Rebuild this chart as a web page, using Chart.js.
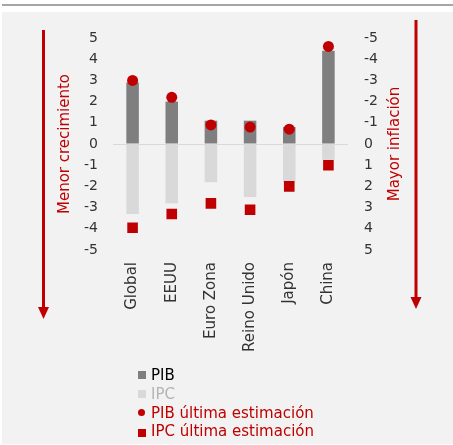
<!DOCTYPE html>
<html lang="es">
<head>
<meta charset="utf-8">
<title>PIB e IPC: previsiones</title>
<script src="https://cdn.jsdelivr.net/npm/chart.js@4/dist/chart.umd.min.js"></script>
<style>
  html, body { margin: 0; padding: 0; background: #ffffff; }
  #wrap { position: relative; width: 453px; height: 445px; overflow: hidden; font-family: "DejaVu Sans", sans-serif; }
  #topline { position: absolute; left: 2px; right: 0; top: 4px; height: 2px; background: #a6a6a6; }
  #panel { position: absolute; left: 2px; right: 0; top: 12px; bottom: 1px; background: #f2f2f2; }
  #chart { position: absolute; left: 0; top: 0; }
  #legend { position: absolute; left: 136px; top: 366px; font-size: 15px; line-height: 18.8px; }
  .item { display: flex; align-items: center; white-space: nowrap; }
  .mk { width: 11px; height: 8px; margin-right: 4px; display: flex; justify-content: center; align-items: center; }
  .mk span { display: block; }
</style>
</head>
<body>
<div id="wrap">
  <div id="topline"></div>
  <div id="panel"></div>
  <canvas id="chart" width="453" height="445"></canvas>
  <div id="legend"></div>
</div>
<script>
// Categorías y series (%)
const categories = ['Global', 'EEUU', 'Euro Zona', 'Reino Unido', 'Japón', 'China'];
const pib = [2.9, 2.0, 1.1, 1.1, 0.8, 4.4];
const ipc = [3.3, 2.8, 1.8, 2.5, 1.8, 0.75];
const pibEstimacion = [3.0, 2.2, 0.9, 0.8, 0.7, 4.6];
const ipcEstimacion = [3.95, 3.3, 2.8, 3.1, 2.0, 1.0];

// Escalas: crecimiento a la izquierda, inflación a la derecha (invertida)
const axisMin = -5;
const axisMax = 5;
const axisStep = 1;
const leftTitle = 'Menor crecimiento';
const rightTitle = 'Mayor inflación';

const RED = '#c00000';
const TICK = '#333333';
const FONT = '"DejaVu Sans", sans-serif';

// Flechas rojas a ambos lados y título del eje derecho (leído de abajo arriba)
const arrowsPlugin = {
  id: 'arrows',
  afterDraw(chart) {
    const ctx = chart.ctx;
    const draw = (x, y0, y1) => {
      ctx.save();
      ctx.strokeStyle = RED;
      ctx.fillStyle = RED;
      ctx.lineWidth = 3;
      ctx.beginPath();
      ctx.moveTo(x, y0);
      ctx.lineTo(x, y1 - 10);
      ctx.stroke();
      ctx.beginPath();
      ctx.moveTo(x - 5.5, y1 - 12);
      ctx.lineTo(x + 5.5, y1 - 12);
      ctx.lineTo(x, y1);
      ctx.closePath();
      ctx.fill();
      ctx.restore();
    };
    draw(43.5, 30, 319);
    draw(416, 20, 309);

    const area = chart.chartArea;
    ctx.save();
    ctx.translate(395, (area.top + area.bottom) / 2);
    ctx.rotate(-Math.PI / 2);
    ctx.font = '15px ' + FONT;
    ctx.fillStyle = RED;
    ctx.textAlign = 'center';
    ctx.textBaseline = 'middle';
    ctx.fillText(rightTitle, 0, 0);
    ctx.restore();
  }
};

const chart = new Chart(document.getElementById('chart'), {
  data: {
    labels: categories,
    datasets: [
      {
        type: 'line', label: 'PIB última estimación', data: pibEstimacion, yAxisID: 'y',
        showLine: false, pointStyle: 'circle', pointRadius: 5.5, pointHoverRadius: 5.5,
        backgroundColor: RED, borderColor: RED, borderWidth: 0, order: 0
      },
      {
        type: 'line', label: 'IPC última estimación', data: ipcEstimacion, yAxisID: 'y1',
        showLine: false, pointStyle: 'rect', pointRadius: 7.5, pointHoverRadius: 7.5,
        backgroundColor: RED, borderColor: RED, borderWidth: 0, order: 0
      },
      {
        type: 'bar', label: 'PIB', data: pib, yAxisID: 'y',
        backgroundColor: '#7f7f7f', grouped: false, order: 1,
        categoryPercentage: 0.8, barPercentage: 0.4
      },
      {
        type: 'bar', label: 'IPC', data: ipc, yAxisID: 'y1',
        backgroundColor: '#d9d9d9', grouped: false, order: 2,
        categoryPercentage: 0.8, barPercentage: 0.4
      }
    ]
  },
  options: {
    responsive: false,
    animation: false,
    layout: { padding: { top: 38, left: 0, right: 0, bottom: 0 } },
    plugins: { legend: { display: false }, tooltip: { enabled: false } },
    scales: {
      x: {
        offset: true,
        grid: { display: false, drawTicks: false },
        border: { display: false },
        ticks: {
          minRotation: 90, maxRotation: 90, padding: 12, autoSkip: false,
          color: TICK, font: { family: FONT, size: 15 }
        },
        afterFit(s) { s.height = 195; }
      },
      y: {
        position: 'left',
        min: axisMin, max: axisMax,
        grid: {
          drawTicks: false,
          color: c => (c.tick && c.tick.value === 0 ? '#d9d9d9' : 'rgba(0,0,0,0)'),
          lineWidth: 1
        },
        border: { display: false },
        ticks: { stepSize: axisStep, padding: 15, color: TICK, font: { family: FONT, size: 14 } },
        title: {
          display: true, text: leftTitle, color: RED,
          font: { family: FONT, size: 15 }, padding: { top: 56, bottom: 0 }
        },
        afterFit(s) { s.width = 113; }
      },
      y1: {
        position: 'right',
        reverse: true,
        min: axisMin, max: axisMax,
        grid: { display: false, drawTicks: false },
        border: { display: false },
        ticks: { stepSize: axisStep, padding: 16, color: TICK, font: { family: FONT, size: 14 } },
        afterFit(s) { s.width = 105; }
      }
    }
  },
  plugins: [arrowsPlugin]
});

// Leyenda vertical bajo el gráfico
const legendItems = [
  { ds: 2, text: '#000000', marker: 'square' },
  { ds: 3, text: '#b4b4b4', marker: 'square' },
  { ds: 0, text: RED, marker: 'circle' },
  { ds: 1, text: RED, marker: 'rect' }
];
const legend = document.getElementById('legend');
legendItems.forEach(it => {
  const ds = chart.data.datasets[it.ds];
  const row = document.createElement('div');
  row.className = 'item';
  const mk = document.createElement('div');
  mk.className = 'mk';
  const sw = document.createElement('span');
  sw.style.background = ds.backgroundColor;
  if (it.marker === 'square') { sw.style.width = '8px'; sw.style.height = '8px'; }
  if (it.marker === 'circle') { sw.style.width = '7px'; sw.style.height = '7px'; sw.style.borderRadius = '50%'; }
  if (it.marker === 'rect') { sw.style.width = '8px'; sw.style.height = '8px'; sw.style.marginTop = '3px'; }
  mk.appendChild(sw);
  const label = document.createElement('span');
  label.textContent = ds.label;
  label.style.color = it.text;
  row.appendChild(mk);
  row.appendChild(label);
  legend.appendChild(row);
});
</script>
</body>
</html>
